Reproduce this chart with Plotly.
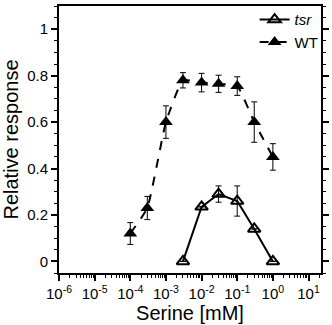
import plotly.graph_objects as go

conc_wt = [1e-4, 3e-4, 1e-3, 3e-3, 1e-2, 3e-2, 1e-1, 3e-1, 1.0]
resp_wt = [0.12, 0.23, 0.60, 0.78, 0.77, 0.765, 0.755, 0.60, 0.45]
err_wt = [0.047, 0.05, 0.07, 0.033, 0.04, 0.037, 0.04, 0.087, 0.057]

conc_tsr = [3e-3, 1e-2, 3e-2, 1e-1, 3e-1, 1.0]
resp_tsr = [0.0, 0.235, 0.29, 0.26, 0.14, 0.0]
err_tsr = [0.0, 0.0, 0.035, 0.065, 0.0, 0.0]

xtick_vals = [1e-6, 1e-5, 1e-4, 1e-3, 1e-2, 1e-1, 1e0, 1e1]
xtick_text = ["10<sup>-6</sup>", "10<sup>-5</sup>", "10<sup>-4</sup>", "10<sup>-3</sup>",
              "10<sup>-2</sup>", "10<sup>-1</sup>", "10<sup>0</sup>", "10<sup>1</sup>"]
ytick_vals = [0, 0.2, 0.4, 0.6, 0.8, 1.0]
ytick_text = ["0", "0.2", "0.4", "0.6", "0.8", "1"]

fig = go.Figure()
fig.add_trace(go.Scatter(
    x=conc_tsr, y=resp_tsr, name="<i>tsr</i>", mode="lines+markers",
    line=dict(color="black", width=2),
    marker=dict(symbol="triangle-up-open", size=11, color="black", line=dict(width=2)),
    error_y=dict(type="data", array=err_tsr, color="black", thickness=1, width=3),
))
fig.add_trace(go.Scatter(
    x=conc_wt, y=resp_wt, name="WT", mode="lines+markers",
    line=dict(color="black", width=2, dash="dash", shape="spline", smoothing=0.4),
    marker=dict(symbol="triangle-up", size=12, color="black"),
    error_y=dict(type="data", array=err_wt, color="black", thickness=1, width=3),
))

fig.update_layout(
    width=332, height=325,
    margin=dict(l=59, r=3, t=5, b=52),
    plot_bgcolor="white", paper_bgcolor="white",
    font=dict(family="Liberation Sans, Arial, sans-serif", color="black", size=15),
    showlegend=True,
    legend=dict(x=1.01, y=1.01, xanchor="right", yanchor="top",
                bgcolor="rgba(0,0,0,0)", font=dict(size=15, color="black"),
                tracegroupgap=0, itemwidth=30),
)
fig.update_xaxes(
    type="log", range=[-6, 1.35],
    tickmode="array", tickvals=xtick_vals, ticktext=xtick_text,
    ticks="outside", ticklen=6, tickwidth=1.5, tickcolor="black",
    minor=dict(dtick="D1", ticks="outside", ticklen=3, tickwidth=1, tickcolor="black"),
    showline=True, linewidth=2, linecolor="black", mirror=True,
    showgrid=False, zeroline=False,
    title=dict(text="Serine [mM]", font=dict(size=20, color="black"), standoff=2),
    tickfont=dict(size=15, color="black"),
)
fig.update_yaxes(
    range=[-0.05, 1.1],
    tickmode="array", tickvals=ytick_vals, ticktext=ytick_text,
    ticks="outside", ticklen=6, tickwidth=1.5, tickcolor="black",
    minor=dict(dtick=0.05, tick0=0, ticks="outside", ticklen=3, tickwidth=1, tickcolor="black"),
    showline=True, linewidth=2, linecolor="black", mirror="ticks",
    showgrid=False, zeroline=False,
    title=dict(text="Relative response", font=dict(size=20, color="black"), standoff=4),
    tickfont=dict(size=15, color="black"),
)

fig.write_html("out.html")
